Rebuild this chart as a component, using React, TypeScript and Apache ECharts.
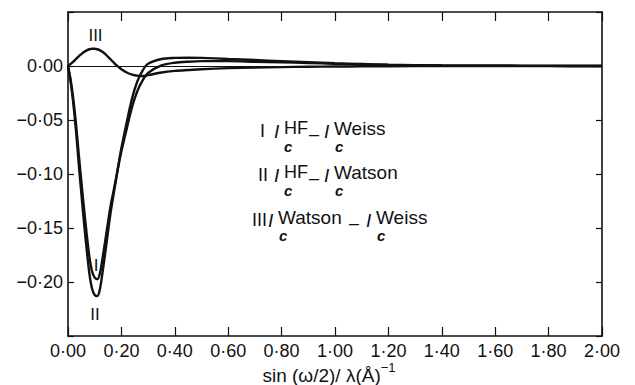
import React, { useEffect, useRef } from "react";
import * as echarts from "echarts";

// sin(ω/2)/λ  (Å^-1)
const sValues = [
  0, 0.01, 0.02, 0.03, 0.04, 0.05, 0.06, 0.07, 0.08, 0.09, 0.1, 0.11, 0.12, 0.13, 0.14, 0.15, 0.16,
  0.17, 0.18, 0.19, 0.2, 0.22, 0.24, 0.26, 0.28, 0.3, 0.35, 0.4, 0.45, 0.5, 0.6, 0.7, 0.8, 0.9, 1.0,
  1.1, 1.2, 1.4, 1.6, 1.8, 2.0,
];

// I : f_HF − f_Weiss
const curveI = [
  0, -0.013, -0.031, -0.0535, -0.081, -0.107, -0.132, -0.1555, -0.1765, -0.19, -0.196, -0.1975,
  -0.1915, -0.177, -0.161, -0.1445, -0.129, -0.1165, -0.104, -0.091, -0.079, -0.058, -0.038, -0.023,
  -0.013, -0.0065, 0.0005, 0.003, 0.004, 0.0045, 0.0045, 0.004, 0.0035, 0.0028, 0.002, 0.0015, 0.001,
  0.0005, 0.0002, 0.0001, 0,
];

// II : f_HF − f_Watson
const curveII = [
  0, -0.015, -0.035, -0.06, -0.09, -0.118, -0.145, -0.17, -0.192, -0.206, -0.212, -0.213, -0.206,
  -0.19, -0.172, -0.153, -0.135, -0.12, -0.105, -0.09, -0.076, -0.052, -0.03, -0.014, -0.004, 0.002,
  0.0065, 0.0075, 0.0077, 0.0075, 0.0065, 0.0055, 0.0045, 0.0035, 0.0025, 0.0018, 0.0012, 0.0005,
  0.0002, 0.0001, 0,
];

// III : f_Watson − f_Weiss
const curveIII = [
  0, 0.002, 0.004, 0.0065, 0.009, 0.011, 0.013, 0.0145, 0.0155, 0.016, 0.016, 0.0155, 0.0145, 0.013,
  0.011, 0.0085, 0.006, 0.0035, 0.001, -0.001, -0.003, -0.006, -0.008, -0.009, -0.0092, -0.0085,
  -0.006, -0.0045, -0.0037, -0.003, -0.002, -0.0015, -0.001, -0.0007, -0.0005, -0.0003, -0.0002, 0, 0,
  0, 0,
];

const xMin = 0;
const xMax = 2;
const xStep = 0.2;
const yMin = -0.25;
const yMax = 0.05;
const yStep = 0.05;

const FONT = "'Liberation Sans', Arial, sans-serif";
const INK = "#111";

const pairs = (ys: number[]) => sValues.map((x, i) => [x, ys[i]]);

const fmtX = (v: number) => v.toFixed(2).replace(".", "·");
const fmtY = (v: number) => {
  if (v > 0.001 || v < -0.201) return "";
  const s = Math.abs(v).toFixed(2).replace(".", "·");
  return v < -0.001 ? "−" + s : s;
};

const txt = (
  text: string,
  x: number,
  y: number,
  size: number,
  extra: Record<string, any> = {}
) => ({
  type: "text",
  x,
  y,
  silent: true,
  style: {
    text,
    fill: INK,
    fontFamily: FONT,
    fontSize: size,
    textVerticalAlign: "middle",
    verticalAlign: "middle",
    ...extra,
  },
});

const ell = (x: number, y: number) => txt("I", x, y, 19, { fontStyle: "italic" });
const sub = (x: number, y: number) =>
  txt("c", x, y, 15, { fontStyle: "italic", fontWeight: "bold" });
const minus = (x: number, y: number) => txt("–", x, y, 18);

export default function App() {
  const ref = useRef<HTMLDivElement>(null);

  useEffect(() => {
    if (!ref.current) return;
    const chart = echarts.init(ref.current, null, { renderer: "svg" });

    const axisLine = { show: true, onZero: false, lineStyle: { color: INK, width: 1.6 } };
    const lineSeries = (name: string, ys: number[]) => ({
      name,
      type: "line",
      data: pairs(ys),
      showSymbol: false,
      smooth: 0.3,
      lineStyle: { color: INK, width: 2.4 },
      z: 3,
    });

    const legendGraphics: any[] = [
      // Line 1 : I  I_c^HF − I_c^Weiss
      txt("I", 260, 131, 18),
      ell(274, 131),
      txt("HF", 284, 128, 18),
      sub(284, 146),
      minus(309, 134),
      ell(324, 131),
      txt("Weiss", 334, 128, 19),
      sub(335, 146),
      // Line 2 : II  I_c^HF − I_c^Watson
      txt("II", 258, 175, 18),
      ell(274, 175),
      txt("HF", 284, 172, 18),
      sub(284, 190),
      minus(309, 178),
      ell(324, 175),
      txt("Watson", 334, 172, 19),
      sub(335, 190),
      // Line 3 : III  I_c^Watson − I_c^Weiss
      txt("III", 252, 220, 18),
      ell(268, 220),
      txt("Watson", 278, 217, 19),
      sub(279, 235),
      minus(349, 223),
      ell(366, 220),
      txt("Weiss", 376, 217, 19),
      sub(377, 235),
      // curve labels
      txt("III", 95.5, 35, 17, { textAlign: "center" }),
      txt("I", 96, 265, 17, { textAlign: "center" }),
      txt("II", 95, 314, 17, { textAlign: "center" }),
      // x-axis title
      {
        type: "text",
        x: 329,
        y: 373,
        silent: true,
        style: {
          text: "{a|sin (ω/2)/ λ(Å)}{b|−1}",
          textAlign: "center",
          textVerticalAlign: "middle",
          verticalAlign: "middle",
          rich: {
            a: { fontFamily: FONT, fontSize: 19, fill: INK, color: INK, lineHeight: 24, verticalAlign: "bottom" },
            b: { fontFamily: FONT, fontSize: 13, fill: INK, color: INK, lineHeight: 24, verticalAlign: "top" },
          },
        },
      },
    ];

    chart.setOption({
      animation: false,
      backgroundColor: "#fff",
      grid: { left: 68, right: 33, top: 12, bottom: 49 },
      xAxis: [
        {
          type: "value",
          min: xMin,
          max: xMax,
          interval: xStep,
          position: "bottom",
          axisLine,
          axisTick: { show: true, inside: true, length: 9, lineStyle: { color: INK, width: 1.2 } },
          axisLabel: {
            formatter: fmtX,
            color: INK,
            fontSize: 18,
            fontFamily: FONT,
            margin: 6,
            showMinLabel: true,
            showMaxLabel: true,
          },
          splitLine: { show: false },
        },
        {
          type: "value",
          min: xMin,
          max: xMax,
          interval: xStep,
          position: "top",
          axisLine,
          axisTick: { show: true, inside: true, length: 9, lineStyle: { color: INK, width: 1.2 } },
          axisLabel: { show: false },
          splitLine: { show: false },
        },
      ],
      yAxis: [
        {
          type: "value",
          min: yMin,
          max: yMax,
          interval: yStep,
          position: "left",
          axisLine,
          axisTick: { show: true, inside: true, length: 6, lineStyle: { color: INK, width: 1.2 } },
          axisLabel: { formatter: fmtY, color: INK, fontSize: 18, fontFamily: FONT, margin: 5 },
          splitLine: { show: false },
        },
        {
          type: "value",
          min: yMin,
          max: yMax,
          interval: yStep,
          position: "right",
          axisLine,
          axisTick: { show: true, inside: true, length: 6, lineStyle: { color: INK, width: 1.2 } },
          axisLabel: { show: false },
          splitLine: { show: false },
        },
      ],
      series: [
        {
          ...lineSeries("I", curveI),
          markLine: {
            silent: true,
            symbol: ["none", "none"],
            label: { show: false },
            lineStyle: { color: INK, width: 1, type: "solid" },
            data: [{ yAxis: 0 }],
          },
        },
        lineSeries("II", curveII),
        lineSeries("III", curveIII),
      ],
      graphic: legendGraphics,
    });

    return () => chart.dispose();
  }, []);

  return (
    <div
      ref={ref}
      style={{ position: "fixed", left: 0, top: 0, width: 635, height: 385, background: "#fff" }}
    />
  );
}
